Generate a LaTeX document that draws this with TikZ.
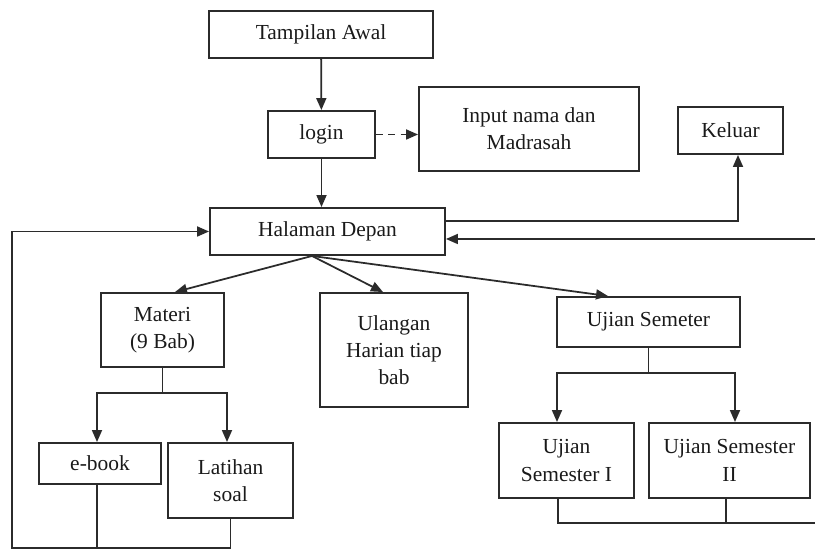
\documentclass[tikz,border=0pt]{standalone}
\usepackage{fontspec}
\setmainfont{Liberation Serif}
\usetikzlibrary{arrows.meta}
\definecolor{flowLine}{HTML}{2B2B2B}
\definecolor{flowText}{HTML}{1A1A1A}

\begin{document}
\begin{tikzpicture}[
  x=0.02cm, y=-0.02cm,
  font=\fontsize{12.2}{15.5}\selectfont,
  box/.style={
    rectangle,
    draw=flowLine,
    line width=1.1pt,
    text=flowText,
    align=center,
    inner sep=2pt
  },
  line/.style={flowLine, line width=1pt},
  arr/.style={-{Triangle[length=2.4mm, width=2mm]}, flowLine, line width=1pt}
]
  \useasboundingbox (0,0) rectangle (815,550);

  \node[box, minimum width=4.48cm, minimum height=0.94cm] (awal) at (321,34.5) {Tampilan Awal};
  \node[box, minimum width=2.14cm, minimum height=0.94cm] (login) at (321.5,134.5) {login};
  \node[box, minimum width=4.40cm, minimum height=1.68cm] (input) at (529,129) {Input nama dan\\Madrasah};
  \node[box, minimum width=2.10cm, minimum height=0.94cm] (keluar) at (730.5,130.5) {Keluar};
  \node[box, minimum width=4.70cm, minimum height=0.94cm] (depan) at (327.5,231.5) {Halaman Depan};
  \node[box, minimum width=2.46cm, minimum height=1.48cm] (materi) at (162.5,330) {Materi\\(9 Bab)};
  \node[box, minimum width=2.96cm, minimum height=2.28cm] (ulangan) at (394,350) {Ulangan\\Harian tiap\\bab};
  \node[box, minimum width=3.66cm, minimum height=1.00cm] (ujian) at (648.5,322) {Ujian Semeter};
  \node[box, minimum width=2.44cm, minimum height=0.82cm] (ebook) at (100,463.5) {e-book};
  \node[box, minimum width=2.50cm, minimum height=1.50cm] (latihan) at (230.5,480.5) {Latihan\\soal};
  \node[box, minimum width=2.70cm, minimum height=1.50cm] (semI) at (566.5,460.5) {Ujian\\Semester I};
  \node[box, minimum width=3.22cm, minimum height=1.50cm] (semII) at (729.5,460.5) {Ujian Semester\\II};

  \coordinate (hub) at ([xshift=-0.31cm]depan.south);
  \coordinate (lb) at (12,548);
  \coordinate (rb) at (830,523);
  \coordinate (rt) at (830,239);

  % alur utama
  \draw[arr] (awal) -- (login);
  \draw[arr] (login.south) -- (login.south |- depan.north);
  \draw[arr, dashed, dash pattern=on 4pt off 3pt] (login.east) -- (login.east -| input.west);
  \draw[arr] ([yshift=0.21cm]depan.east) -| ([xshift=0.15cm]keluar.south);

  % menu halaman depan
  \draw[arr] (hub) -- ([xshift=0.25cm]materi.north);
  \draw[arr] (hub) -- ([xshift=-0.22cm]ulangan.north);
  \draw[arr] (hub) -- ([xshift=-0.81cm]ujian.north);

  \draw[arr] (materi.south) -- ++(0,25) -| ([xshift=-0.06cm]ebook.north);
  \draw[arr] (materi.south) -- ++(0,25) -| ([xshift=-0.07cm]latihan.north);
  \draw[arr] (ujian.south) -- ++(0,25) -| ([xshift=-0.19cm]semI.north);
  \draw[arr] (ujian.south) -- ++(0,25) -| ([xshift=0.11cm]semII.north);

  % kembali ke halaman depan
  \draw[line] ([xshift=-0.06cm]ebook.south) -- ([xshift=-0.06cm]ebook.south |- lb);
  \draw[arr] (latihan.south) |- (lb) |- (depan.west);
  \draw[line] ([xshift=-0.07cm]semII.south) -- ([xshift=-0.07cm]semII.south |- rb);
  \draw[arr] ([xshift=-0.17cm]semI.south) |- (rb) -- (rt) -- (rt -| depan.east);

\end{tikzpicture}
\end{document}
